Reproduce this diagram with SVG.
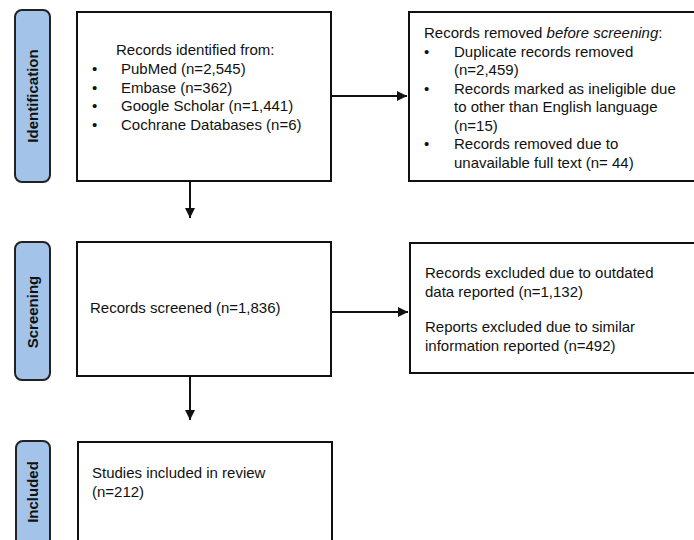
<svg xmlns="http://www.w3.org/2000/svg" width="694" height="540" viewBox="0 0 694 540">
<style>
.box{fill:#fff;stroke:#111;stroke-width:2}
.lab{fill:#a3c4e8;stroke:#222;stroke-width:2}
.t{font-family:"Liberation Sans",Arial,sans-serif;font-size:15px;fill:#111}
.lt{font-family:"Liberation Sans",Arial,sans-serif;font-size:15px;font-weight:bold;fill:#111;text-anchor:middle}
.c{stroke:#111;stroke-width:2;fill:none}
</style>
<defs>
<marker id="ah" markerWidth="10" markerHeight="10" refX="10" refY="5" orient="auto" markerUnits="userSpaceOnUse">
<path d="M0,0 L10,5 L0,10 Z" fill="#111"/>
</marker>
</defs>
<rect width="694" height="540" fill="#fff"/>
<g id="connectors">
<line class="c" x1="190" y1="181" x2="190" y2="218" marker-end="url(#ah)"/>
<line class="c" x1="190" y1="376" x2="190" y2="420" marker-end="url(#ah)"/>
<line class="c" x1="331" y1="96" x2="407" y2="96" marker-end="url(#ah)"/>
<line class="c" x1="331" y1="312" x2="408" y2="312" marker-end="url(#ah)"/>
</g>
<g id="label-identification">
<rect class="lab" x="15" y="10" width="35" height="172" rx="7"/>
<text class="lt" transform="translate(38,96) rotate(-90)">Identification</text>
</g>
<g id="label-screening">
<rect class="lab" x="15" y="242" width="35" height="138" rx="7"/>
<text class="lt" transform="translate(38,312) rotate(-90)">Screening</text>
</g>
<g id="label-included">
<rect class="lab" x="16" y="441" width="34" height="110" rx="7"/>
<text class="lt" transform="translate(38,492) rotate(-90)">Included</text>
</g>
<g id="box-identified">
<rect class="box" x="77" y="12" width="254" height="169"/>
<text class="t" x="116" y="55">Records identified from:</text>
<g class="t">
<text class="t" x="92" y="74">•</text><text class="t" x="121" y="74">PubMed (n=2,545)</text>
<text class="t" x="92" y="92.5">•</text><text class="t" x="121" y="92.5">Embase (n=362)</text>
<text class="t" x="92" y="111">•</text><text class="t" x="121" y="111">Google Scholar (n=1,441)</text>
<text class="t" x="92" y="129.5">•</text><text class="t" x="121" y="129.5">Cochrane Databases (n=6)</text>
</g>
</g>
<g id="box-removed">
<rect class="box" x="409" y="12" width="300" height="169"/>
<text class="t" x="424" y="38">Records removed <tspan font-style="italic">before screening</tspan>:</text>
<text class="t" x="424" y="56.5">•</text><text class="t" x="454" y="56.5">Duplicate records removed</text>
<text class="t" x="454" y="75">(n=2,459)</text>
<text class="t" x="424" y="93.5">•</text><text class="t" x="454" y="93.5">Records marked as ineligible due</text>
<text class="t" x="454" y="112">to other than English language</text>
<text class="t" x="454" y="130.5">(n=15)</text>
<text class="t" x="424" y="149">•</text><text class="t" x="454" y="149">Records removed due to</text>
<text class="t" x="454" y="167.5">unavailable full text (n= 44)</text>
</g>
<g id="box-screened">
<rect class="box" x="77" y="242" width="254" height="134"/>
<text class="t" x="90" y="313">Records screened (n=1,836)</text>
</g>
<g id="box-excluded">
<rect class="box" x="410" y="243" width="300" height="130"/>
<text class="t" x="425" y="278">Records excluded due to outdated</text>
<text class="t" x="425" y="296.5">data reported (n=1,132)</text>
<text class="t" x="425" y="332">Reports excluded due to similar</text>
<text class="t" x="425" y="350.5">information reported (n=492)</text>
</g>
<g id="box-included">
<rect class="box" x="78" y="442" width="254" height="110"/>
<text class="t" x="92" y="478">Studies included in review</text>
<text class="t" x="92" y="496.5">(n=212)</text>
</g>
</svg>
